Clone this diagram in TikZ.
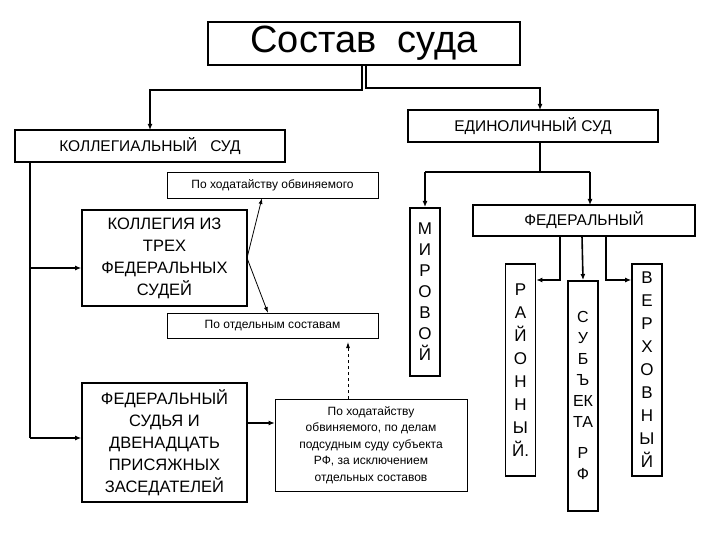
\documentclass[tikz,border=0pt]{standalone}
\usepackage{fontspec}
\setmainfont{Liberation Sans}
\usetikzlibrary{arrows.meta}
\tikzset{
  box/.style={draw,line width=1.6pt,inner sep=0pt,align=center},
  note/.style={draw,line width=0.6pt,inner sep=0pt,align=center,font=\fontsize{12}{16.5}\selectfont},
  col/.style={box,minimum width=30pt,anchor=north,font=\fontsize{17}{21}\selectfont},
  link/.style={line width=1.6pt,-{Latex[length=6pt,width=5pt]}},
  thin/.style={line width=0.8pt,-{Latex[length=6pt,width=4pt]}}
}
\begin{document}
\begin{tikzpicture}[x=1pt,y=-1pt]
    \useasboundingbox (0,0) rectangle (720,540);
    \node[box,minimum width=312pt,minimum height=43pt,font=\fontsize{38}{40}\selectfont] (S) at (364,43.5) {Состав\ \ суда};
    \node[box,minimum width=270pt,minimum height=32pt,font=\fontsize{15.5}{18}\selectfont] (K) at (150,146) {КОЛЛЕГИАЛЬНЫЙ\ \ \ СУД};
    \node[box,minimum width=250pt,minimum height=32pt,font=\fontsize{15.5}{18}\selectfont] (E) at (533,126) {ЕДИНОЛИЧНЫЙ СУД};
    \node[note,minimum width=211pt,minimum height=26pt] (H1) at (272.5,185) {По ходатайству обвиняемого};
    \node[note,minimum width=211pt,minimum height=25pt] (O) at (272.5,325.5) {По отдельным составам};
    \node[box,minimum width=165pt,minimum height=96pt,font=\fontsize{16.5}{22}\selectfont] (K3) at (164.5,258) {КОЛЛЕГИЯ ИЗ\\ТРЕХ\\ФЕДЕРАЛЬНЫХ\\СУДЕЙ};
    \node[box,minimum width=165pt,minimum height=119pt,font=\fontsize{16.5}{22}\selectfont] (FS) at (164.5,442.5) {ФЕДЕРАЛЬНЫЙ\\СУДЬЯ И\\ДВЕНАДЦАТЬ\\ПРИСЯЖНЫХ\\ЗАСЕДАТЕЛЕЙ};
    \node[note,minimum width=192pt,minimum height=92pt] (H2) at (371,445) {По ходатайству\\обвиняемого, по делам\\подсудным суду субъекта\\РФ, за исключением\\отдельных составов};
    \node[col,minimum height=168pt] (M) at (425,207) {М\\И\\Р\\О\\В\\О\\Й};
    \node[box,minimum width=222pt,minimum height=31pt,font=\fontsize{15.5}{18}\selectfont] (F) at (584,220.5) {ФЕДЕРАЛЬНЫЙ};
    \node[col,minimum height=212pt,font=\fontsize{17}{23}\selectfont] (R) at (520.5,263) {Р\\А\\Й\\О\\Н\\Н\\Ы\\Й.};
    \node[col,minimum height=230pt,font=\fontsize{16}{21}\selectfont] (B) at (583,280) {С\\У\\Б\\Ъ\\ЕК\\ТА\\[10pt]Р\\Ф};
    \node[col,minimum height=212pt,font=\fontsize{17}{23}\selectfont] (V) at (647,263) {В\\Е\\Р\\Х\\О\\В\\Н\\Ы\\Й};
    % from the title
    \draw[link] ([xshift=-2pt]S.south) |- (150,90) -- (150,130);
    \draw[link] ([xshift=2pt]S.south) |- (540,88) -- (540,110);
    % collegial
    \coordinate (k0) at (30,162);
    \draw[line width=1.6pt] (k0) -- (30,438);
    \draw[link] (30,268) -- (K3.west |- 0,268);
    \draw[link] (30,438) -- (FS.west |- 0,438);
    \coordinate (k3) at (247,258);
    \draw[thin] (k3) -- (262,198);
    \draw[thin] (k3) -- (268,313);
    \draw[link] (FS.east |- 0,423) -- (H2.west |- 0,423);
    \draw[thin,dashed] (348,399) -- (348,342);
    % single judge
    \draw[line width=1.6pt] (E.south -| 540,0) -- (540,172);
    \draw[link] (425,172) -- (M.north);
    \draw[line width=1.6pt] (425,172) -- (590,172);
    \draw[link] (590,172) -- (590,205);
    \draw[link] (560,236) |- (R.east |- 0,280);
    \draw[link] (582,236) -- (B.north);
    \draw[link] (606,236) |- (V.west |- 0,280);
\end{tikzpicture}
\end{document}
